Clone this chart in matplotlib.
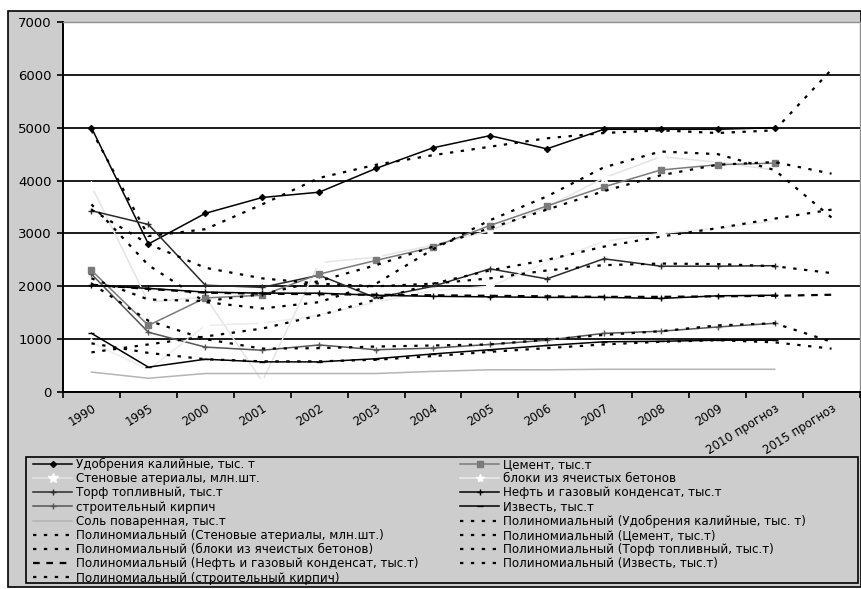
import numpy as np
import matplotlib.pyplot as plt
from matplotlib.patches import Rectangle

nan = np.nan

# categories (x axis)
years = ['1990', '1995', '2000', '2001', '2002', '2003', '2004', '2005',
         '2006', '2007', '2008', '2009', '2010 прогноз', '2015 прогноз']

# series
udobr = [5000, 2800, 3380, 3680, 3780, 4230, 4620, 4850, 4600, 4970, 4970, 4970, 5000, nan]
cement = [2300, 1260, 1780, 1830, 2230, 2490, 2740, 3150, 3520, 3880, 4200, 4300, 4330, nan]
steno = [3900, 1700, 1800, 200, 2450, 2550, 2780, 3050, 3500, 4050, 4450, 4350, 4200, nan]
bloki = [940, 420, 1260, 1300, 1450, 1700, 1920, 2000, 2450, 2850, 3000, 3100, 3230, nan]
torf = [3430, 3170, 2020, 1980, 2210, 1780, 2000, 2330, 2140, 2520, 2380, 2380, 2390, nan]
neft = [2020, 1960, 1890, 1870, 1870, 1830, 1810, 1800, 1790, 1790, 1770, 1820, 1830, nan]
kirp = [2230, 1130, 850, 790, 890, 800, 830, 900, 980, 1110, 1150, 1230, 1300, nan]
izv = [1110, 470, 620, 570, 570, 630, 720, 800, 880, 950, 960, 980, 980, nan]
sol = [377, 260, 350, 350, 350, 350, 390, 420, 420, 430, 430, 430, 430, nan]

# polynomial trend lines (at each category)
t_udobr = [4950, 2950, 3080, 3550, 4050, 4300, 4480, 4640, 4800, 4900, 4950, 4900, 4950, 6100]
t_cement = [2150, 1750, 1720, 1850, 2100, 2400, 2750, 3100, 3450, 3800, 4100, 4300, 4350, 4130]
t_steno = [3550, 2400, 1700, 1580, 1700, 2050, 2700, 3250, 3700, 4250, 4550, 4500, 4200, 3300]
t_bloki = [750, 900, 1050, 1200, 1450, 1750, 2050, 2300, 2500, 2750, 2940, 3100, 3280, 3450]
t_torf = [3450, 2800, 2350, 2150, 2050, 2000, 2050, 2150, 2300, 2400, 2430, 2420, 2380, 2250]
t_neft = [2030, 1950, 1880, 1860, 1850, 1840, 1830, 1820, 1810, 1800, 1800, 1810, 1820, 1840]
t_kirp = [2050, 1350, 1000, 820, 830, 860, 880, 900, 990, 1080, 1150, 1260, 1300, 950]
t_izv = [920, 740, 620, 580, 580, 610, 680, 760, 830, 900, 950, 980, 940, 820]

W, H = 862, 589
plt.rcParams['font.family'] = 'DejaVu Sans'
fig = plt.figure(figsize=(W / 100, H / 100), dpi=100)


def fx(px):
    return px / W


def fy(py):
    return 1 - py / H


grey = '#cdcdcd'
# chart area and legend box
fig.patches.append(Rectangle((fx(8), fy(587)), fx(861) - fx(8), fy(11) - fy(587),
                             transform=fig.transFigure, facecolor=grey,
                             edgecolor='black', lw=1.2, zorder=-2))
fig.patches.append(Rectangle((fx(26), fy(583)), fx(858) - fx(26), fy(457) - fy(583),
                             transform=fig.transFigure, facecolor=grey,
                             edgecolor='black', lw=1.2, zorder=-1))

ax = fig.add_axes([fx(63), fy(392), fx(860) - fx(63), fy(22) - fy(392)])
ax.set_facecolor('white')
x = np.arange(len(years))

ax.set_xlim(-0.5, len(years) - 0.5)
ax.set_ylim(0, 7000)
ax.set_yticks(np.arange(0, 7001, 1000))
ax.yaxis.grid(True, color='#1a1a1a', lw=1.4)
ax.set_axisbelow(True)
for s in ['top', 'right']:
    ax.spines[s].set_color('#909090')
    ax.spines[s].set_linewidth(1)
for s in ['left', 'bottom']:
    ax.spines[s].set_linewidth(1.4)

ax.set_xticks(np.arange(-0.5, len(years), 1))
ax.set_xticklabels([])
ax.set_xticks(x, minor=True)
ax.set_xticklabels(years, minor=True, rotation=32, ha='right',
                   rotation_mode='anchor', fontsize=8.5)
ax.tick_params(axis='x', which='minor', length=0, pad=7)
ax.tick_params(axis='x', which='major', length=4, width=1.2)
ax.tick_params(axis='y', length=4, width=1.2, labelsize=9.5, pad=4)

lw = 1.1
series = [
    (udobr, 'Удобрения калийные, тыс. т', dict(color='black', marker='D', ms=3)),
    (steno, 'Стеновые атериалы, млн.шт.', dict(color='#e4e4e4', marker='*', ms=7,
                                                mfc='white', mec='white')),
    (torf, 'Торф топливный, тыс.т', dict(color='#2a2a2a', marker='+', ms=5)),
    (kirp, 'строительный кирпич', dict(color='#555555', marker='+', ms=5)),
    (sol, 'Соль поваренная, тыс.т', dict(color='#b4b4b4')),
    (cement, 'Цемент, тыс.т', dict(color='#7a7a7a', marker='s', ms=4)),
    (bloki, 'блоки из ячеистых бетонов', dict(color='#ececec', marker='*', ms=6,
                                              mfc='white', mec='white')),
    (neft, 'Нефть и газовый конденсат, тыс.т', dict(color='black', marker='+', ms=5)),
    (izv, 'Известь, тыс.т', dict(color='black', marker='_', ms=5)),
]
lines = {}
for vals, name, st in series:
    lines[name], = ax.plot(x, vals, lw=lw, label=name, zorder=3, **st)

dots = (0, (1.5, 3.4))
trends = [
    (t_steno, 'Полиномиальный (Стеновые атериалы, млн.шт.)', dots),
    (t_bloki, 'Полиномиальный (блоки из ячеистых бетонов)', dots),
    (t_neft, 'Полиномиальный (Нефть и газовый конденсат, тыс.т)', (0, (3, 3))),
    (t_kirp, 'Полиномиальный (строительный кирпич)', dots),
    (t_udobr, 'Полиномиальный (Удобрения калийные, тыс. т)', dots),
    (t_cement, 'Полиномиальный (Цемент, тыс.т)', dots),
    (t_torf, 'Полиномиальный (Торф топливный, тыс.т)', dots),
    (t_izv, 'Полиномиальный (Известь, тыс.т)', dots),
]
for vals, name, ls in trends:
    lines[name], = ax.plot(x, vals, color='black', lw=1.6, ls=ls, zorder=4, label=name)

col1 = ['Удобрения калийные, тыс. т', 'Стеновые атериалы, млн.шт.',
        'Торф топливный, тыс.т', 'строительный кирпич', 'Соль поваренная, тыс.т',
        trends[0][1], trends[1][1], trends[2][1], trends[3][1]]
col2 = ['Цемент, тыс.т', 'блоки из ячеистых бетонов',
        'Нефть и газовый конденсат, тыс.т', 'Известь, тыс.т',
        trends[4][1], trends[5][1], trends[6][1], trends[7][1]]

leg_kw = dict(loc='upper left', frameon=False, borderpad=0, borderaxespad=0,
              handlelength=3.3, handletextpad=0.3, labelspacing=0.1,
              fontsize=8.6, numpoints=1)
leg1 = fig.legend([lines[n] for n in col1], col1, bbox_to_anchor=(fx(33), fy(458)), **leg_kw)
leg2 = fig.legend([lines[n] for n in col2], col2, bbox_to_anchor=(fx(460), fy(458)), **leg_kw)
for leg in (leg1, leg2):
    leg.set_zorder(5)

fig.savefig('out.png', dpi=100)
